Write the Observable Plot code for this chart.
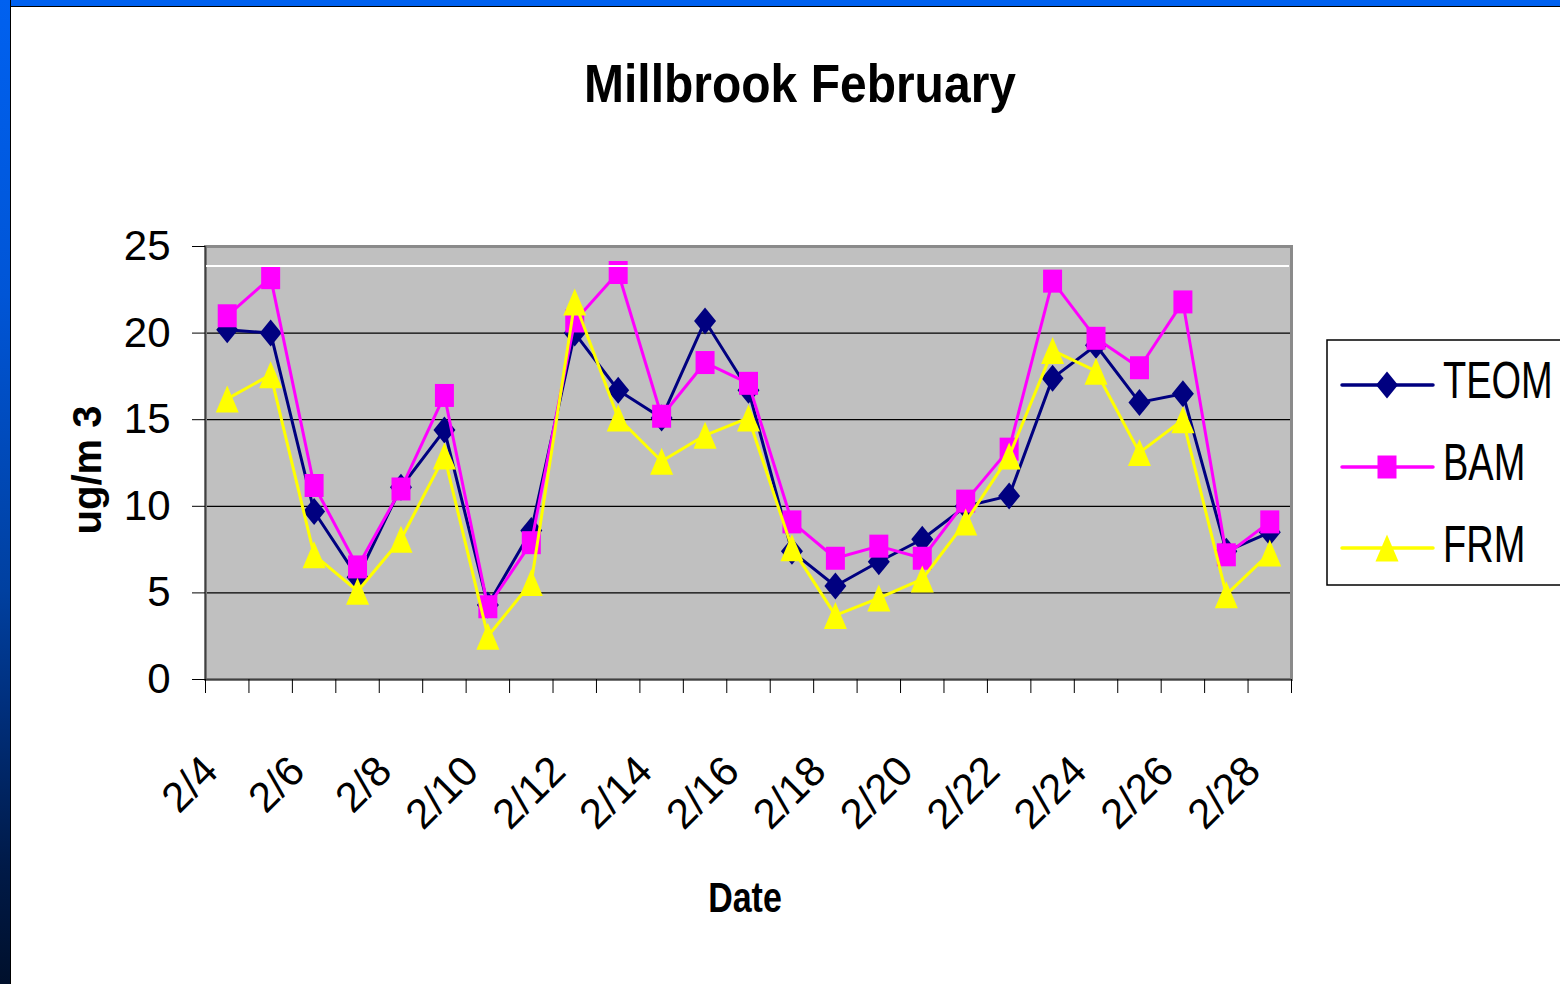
<!DOCTYPE html>
<html>
<head>
<meta charset="utf-8">
<script src="https://cdn.jsdelivr.net/npm/d3@7"></script>
<script src="https://cdn.jsdelivr.net/npm/@observablehq/plot@0.6"></script>
<style>
  html, body { margin: 0; padding: 0; background: #fff; }
  #page { position: relative; width: 1560px; height: 984px; overflow: hidden; background: #fff; }
  #chart { position: absolute; left: 0; top: 0; }
  #deco { position: absolute; left: 0; top: 0; pointer-events: none; }
  .topbar { position: absolute; left: 0; top: 0; width: 1560px; height: 6px; background: #0061f0; border-bottom: 1.5px solid #000; }
  .leftbar { position: absolute; left: 0; top: 0; width: 10px; height: 984px;
    background: linear-gradient(to bottom, #0061f0 0%, #0055d6 30%, #0040a0 60%, #002f7c 72%, #001a48 88%, #00102c 100%);
    border-right: 1.5px solid #000; }
  .shine { position: absolute; left: 206px; top: 265px; width: 1083px; height: 1.5px; background: #fff; }
</style>
</head>
<body>
<div id="page">
  <div id="chart"></div>
  <div class="shine"></div>
  <svg id="deco" width="1560" height="984"></svg>
  <div class="topbar"></div>
  <div class="leftbar"></div>
</div>
<script>
// ---- data ----
const dates = ["2/4","2/5","2/6","2/7","2/8","2/9","2/10","2/11","2/12","2/13","2/14","2/15","2/16",
               "2/17","2/18","2/19","2/20","2/21","2/22","2/23","2/24","2/25","2/26","2/27","2/28"];
const teom = [20.2, 20.0, 9.7, 5.9, 11.1, 14.4, 4.3, 8.6, 20.0, 16.7, 15.1, 20.7, 16.7,
              7.4, 5.4, 6.8, 8.1, 10.0, 10.6, 17.4, 19.3, 16.0, 16.5, 7.4, 8.5];
const bam  = [21.0, 23.2, 11.2, 6.5, 11.0, 16.4, 4.2, 7.9, 20.7, 23.5, 15.2, 18.3, 17.1,
              9.1, 7.0, 7.7, 7.0, 10.3, 13.3, 23.0, 19.7, 18.0, 21.8, 7.2, 9.1];
const frm  = [16.2, 17.6, 7.2, 5.1, 8.1, 12.9, 2.5, 5.6, 21.8, 15.1, 12.6, 14.1, 15.1,
              7.6, 3.7, 4.7, 5.8, 9.1, 12.9, 19.0, 17.8, 13.1, 15.0, 4.9, 7.3];
const seriesNames = ["TEOM", "BAM", "FRM"];
const seriesColors = ["#000080", "#ff00ff", "#ffff00"];
const yTicks = [0, 5, 10, 15, 20, 25];
const gridTicks = [5, 10, 15, 20];
const labelIdx = [0, 2, 4, 6, 8, 10, 12, 14, 16, 18, 20, 22, 24];

// ---- marker shapes ----
const diamondSym = {draw(ctx) { ctx.moveTo(0, -13.5); ctx.lineTo(11, 0); ctx.lineTo(0, 13.5); ctx.lineTo(-11, 0); ctx.closePath(); }};
const squareSym = {draw(ctx) { ctx.moveTo(-9.5, -11.5); ctx.lineTo(9.5, -11.5); ctx.lineTo(9.5, 11.5); ctx.lineTo(-9.5, 11.5); ctx.closePath(); }};
const triangleSym = {draw(ctx) { ctx.moveTo(0, -13.5); ctx.lineTo(11.5, 13.5); ctx.lineTo(-11.5, 13.5); ctx.closePath(); }};
const symbols = [diamondSym, squareSym, triangleSym];

const idx = d3.range(dates.length);
const values = [teom, bam, frm];
const boundaries = d3.range(dates.length + 1).map(i => i - 0.5);

const seriesMarks = [];
values.forEach((vals, s) => {
  seriesMarks.push(Plot.line(idx, {x: i => i, y: i => vals[i], stroke: seriesColors[s], strokeWidth: 3}));
  seriesMarks.push(Plot.dot(idx, {x: i => i, y: i => vals[i], symbol: symbols[s], fill: seriesColors[s], stroke: "none", r: 10}));
});

const sans = "'Liberation Sans', Arial, sans-serif";

const chart = Plot.plot({
  width: 1560, height: 984,
  marginLeft: 205, marginRight: 269, marginTop: 246, marginBottom: 305,
  style: {background: "transparent", fontFamily: sans, fontSize: "42px", color: "#000", overflow: "visible"},
  x: {type: "linear", domain: [-0.5, dates.length - 0.5]},
  y: {type: "linear", domain: [0, 25]},
  marks: [
    Plot.frame({fill: "#c0c0c0", stroke: "none"}),
    Plot.ruleY(gridTicks, {stroke: "#000", strokeWidth: 1.2}),
    ...seriesMarks,
    Plot.frame({fill: "none", stroke: "#8a8a8a", strokeWidth: 3}),
    Plot.ruleX([-0.5], {stroke: "#404040", strokeWidth: 1.5}),
    Plot.ruleY([0], {stroke: "#404040", strokeWidth: 1.5}),
    Plot.axisY(yTicks, {tickSize: 13, tickPadding: 22, label: null, fontSize: 42}),
    Plot.axisX(boundaries, {tickSize: 14, tickFormat: () => "", label: null}),
    Plot.text(labelIdx, {x: d => d, text: d => dates[d], frameAnchor: "bottom", rotate: -45,
      textAnchor: "end", lineAnchor: "bottom", dx: -7, dy: 94, fontSize: 42})
  ]
});
document.getElementById("chart").appendChild(chart);

// ---- title, axis titles, legend ----
const deco = d3.select("#deco");
deco.append("text").attr("text-anchor", "middle")
  .attr("font-family", sans).attr("font-weight", "bold").attr("font-size", 48)
  .attr("transform", "translate(800,102) scale(1,1.12)")
  .text("Millbrook February");
deco.append("text").attr("text-anchor", "middle")
  .attr("font-family", sans).attr("font-weight", "bold").attr("font-size", 34)
  .attr("transform", "translate(745,912) scale(1,1.24)")
  .text("Date");
deco.append("text").attr("transform", "translate(101,470) rotate(-90)").attr("text-anchor", "middle")
  .attr("font-family", sans).attr("font-weight", "bold").attr("font-size", 40)
  .text("ug/m 3");

const lg = deco.append("g").attr("transform", "translate(1327,340)");
lg.append("rect").attr("x", 0).attr("y", 0).attr("width", 260).attr("height", 245)
  .attr("fill", "#fff").attr("stroke", "#000").attr("stroke-width", 1.5);
const rowY = [45, 127, 208];
const textY = [58, 140, 222];
seriesNames.forEach((name, s) => {
  lg.append("line").attr("x1", 15).attr("x2", 106).attr("y1", rowY[s]).attr("y2", rowY[s])
    .attr("stroke", seriesColors[s]).attr("stroke-width", 3.5).attr("stroke-linecap", "round");
  lg.append("path").attr("d", d3.symbol().type(symbols[s])()).attr("transform", `translate(60,${rowY[s]})`)
    .attr("fill", seriesColors[s]);
  lg.append("text").attr("transform", `translate(116,${textY[s]}) scale(1,1.35)`)
    .attr("font-family", sans).attr("font-size", 38).text(name);
});
</script>
</body>
</html>
